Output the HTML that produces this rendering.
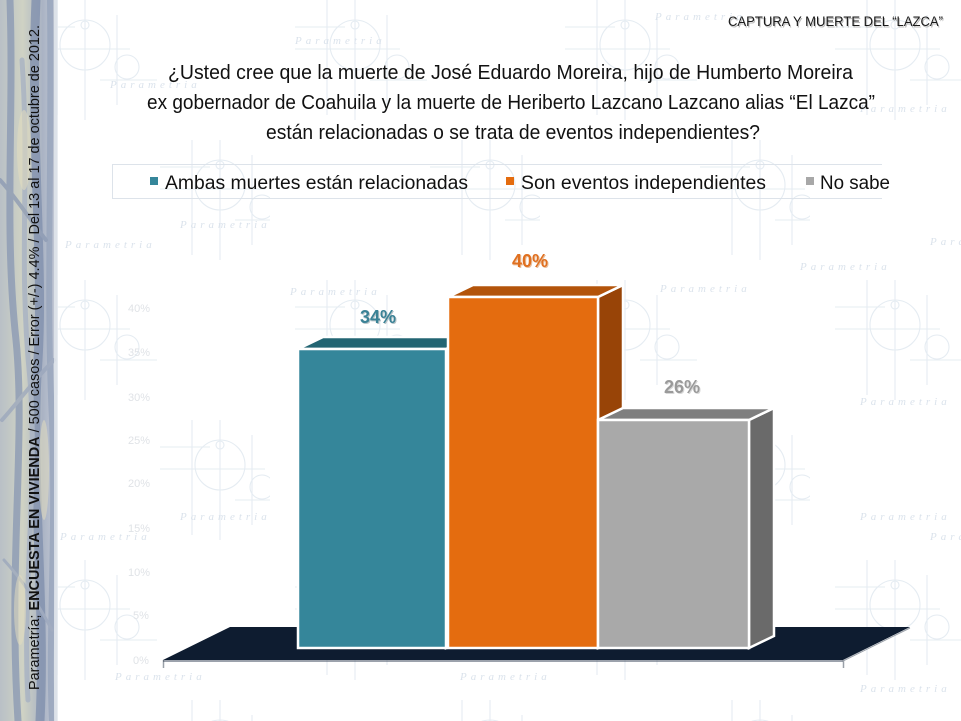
<!DOCTYPE html>
<html>
<head>
<meta charset="utf-8">
<style>
html,body{margin:0;padding:0;background:#fff;}
body{width:961px;height:721px;overflow:hidden;}
svg{display:block;}
</style>
</head>
<body>
<svg width="961" height="721" viewBox="0 0 961 721" xmlns="http://www.w3.org/2000/svg">
<defs>
  <pattern id="wm" x="0" y="0" width="270" height="280" patternUnits="userSpaceOnUse">
    <g fill="none" stroke="#dfe7ef" stroke-width="1.1">
      <g transform="translate(85,45)">
        <circle r="25"/><circle cy="-20" r="4"/>
        <line x1="-60" y1="4" x2="45" y2="4"/><line x1="-60" y1="-18" x2="-10" y2="-18"/>
        <line x1="-28" y1="-45" x2="-28" y2="70"/><line x1="0" y1="-45" x2="0" y2="75"/>
        <line x1="32" y1="-30" x2="32" y2="60"/>
        <circle cx="42" cy="22" r="12"/><line x1="15" y1="35" x2="72" y2="35"/>
      </g>
      <g transform="translate(220,185)">
        <circle r="25"/><circle cy="-20" r="4"/>
        <line x1="-60" y1="4" x2="45" y2="4"/><line x1="-60" y1="-18" x2="-10" y2="-18"/>
        <line x1="-28" y1="-45" x2="-28" y2="70"/><line x1="0" y1="-45" x2="0" y2="75"/>
        <line x1="32" y1="-30" x2="32" y2="60"/>
        <circle cx="42" cy="22" r="12"/><line x1="15" y1="35" x2="72" y2="35"/>
      </g>
    </g>
  </pattern>
  <linearGradient id="strip" x1="0" y1="0" x2="1" y2="0">
    <stop offset="0" stop-color="#b9c0c6"/>
    <stop offset="0.4" stop-color="#cfd2c4"/>
    <stop offset="0.75" stop-color="#aab3c4"/>
    <stop offset="1" stop-color="#c4cad6"/>
  </linearGradient>
</defs>

<rect x="0" y="0" width="961" height="721" fill="#ffffff"/>
<rect x="57" y="0" width="904" height="721" fill="url(#wm)" opacity="0.8"/>
<g font-family="Liberation Serif, serif" font-style="italic" font-size="11" fill="#dbe3ec" letter-spacing="4">
  <text x="110" y="88">Parametria</text>
  <text x="180" y="228">Parametria</text>
  <text x="65" y="248">Parametria</text>
  <text x="295" y="44">Parametria</text>
  <text x="180" y="520">Parametria</text>
  <text x="60" y="540">Parametria</text>
  <text x="290" y="295">Parametria</text>
  <text x="660" y="292">Parametria</text>
  <text x="800" y="270">Parametria</text>
  <text x="860" y="112">Parametria</text>
  <text x="655" y="20">Parametria</text>
  <text x="860" y="405">Parametria</text>
  <text x="860" y="520">Parametria</text>
  <text x="660" y="540">Parametria</text>
  <text x="860" y="692">Parametria</text>
  <text x="115" y="680">Parametria</text>
  <text x="460" y="680">Parametria</text>
  <text x="930" y="245">Para</text>
  <text x="930" y="540">Para</text>
</g>
<g font-family="Liberation Sans, sans-serif" font-size="11" fill="#e0e3e7" text-anchor="middle">
  <text x="139" y="312">40%</text>
  <text x="139" y="356">35%</text>
  <text x="139" y="401">30%</text>
  <text x="139" y="444">25%</text>
  <text x="139" y="487">20%</text>
  <text x="139" y="532">15%</text>
  <text x="139" y="576">10%</text>
  <text x="141" y="619">5%</text>
  <text x="141" y="664">0%</text>
</g>

<rect x="0" y="0" width="57" height="721" fill="url(#strip)"/>
<g fill="none" stroke-linecap="round" opacity="0.75">
  <path d="M10,0 C14,120 4,230 16,340 C26,440 8,560 18,721" stroke="#8897b3" stroke-width="7"/>
  <path d="M36,0 C30,140 44,260 38,360 C30,470 46,600 40,721" stroke="#7e8eac" stroke-width="9"/>
  <path d="M50,0 C52,160 46,300 52,420 C56,540 48,640 52,721" stroke="#95a3bb" stroke-width="6"/>
  <path d="M22,60 C30,180 18,260 30,380 C38,480 22,600 28,700" stroke="#a5b0c3" stroke-width="5"/>
  <path d="M0,180 C18,200 30,220 46,240" stroke="#8a98b2" stroke-width="4"/>
  <path d="M2,420 C20,400 34,380 54,360" stroke="#9aa6bc" stroke-width="4"/>
  <path d="M4,560 C22,580 36,600 52,630" stroke="#9aa6bc" stroke-width="3"/>
</g>
<g fill="#e2dcc0" opacity="0.55">
  <ellipse cx="24" cy="150" rx="7" ry="40"/>
  <ellipse cx="44" cy="470" rx="5" ry="50"/>
  <ellipse cx="20" cy="610" rx="6" ry="35"/>
</g>
<rect x="54" y="0" width="4" height="721" fill="#e4e8ee" opacity="0.8"/>

<text transform="translate(39,690) rotate(-90)" font-family="Liberation Sans, sans-serif" font-size="14.5" fill="#111" textLength="665" lengthAdjust="spacingAndGlyphs">Parametría; <tspan font-weight="bold">ENCUESTA EN VIVIENDA</tspan> / 500 casos / Error (+/-) 4.4% / Del 13 al 17 de octubre de 2012.</text>

<text x="728" y="26" font-family="Liberation Sans, sans-serif" font-size="13.5" fill="#bbbbbb" textLength="215" lengthAdjust="spacingAndGlyphs" transform="translate(1,1.5)">CAPTURA Y MUERTE DEL “LAZCA”</text>
<text x="728" y="26" font-family="Liberation Sans, sans-serif" font-size="13.5" fill="#1a1a1a" textLength="215" lengthAdjust="spacingAndGlyphs">CAPTURA Y MUERTE DEL “LAZCA”</text>

<g font-family="Liberation Sans, sans-serif" font-size="20.5" fill="#111">
  <text x="168" y="79" textLength="685" lengthAdjust="spacingAndGlyphs">¿Usted cree que la muerte de José Eduardo Moreira, hijo de Humberto Moreira</text>
  <text x="147" y="109" textLength="728" lengthAdjust="spacingAndGlyphs">ex gobernador de Coahuila y la muerte de Heriberto Lazcano Lazcano alias “El Lazca”</text>
  <text x="266" y="139" textLength="494" lengthAdjust="spacingAndGlyphs">están relacionadas o se trata de eventos independientes?</text>
</g>

<line x1="112" y1="164.5" x2="882" y2="164.5" stroke="#dde3ea" stroke-width="1"/>
<line x1="112" y1="198.5" x2="882" y2="198.5" stroke="#dde3ea" stroke-width="1"/>
<line x1="112.5" y1="164" x2="112.5" y2="199" stroke="#dde3ea" stroke-width="1"/>
<rect x="150" y="177" width="8" height="8" fill="#35869a"/>
<rect x="506" y="177" width="8" height="8" fill="#e46c0f"/>
<rect x="806" y="177" width="8" height="8" fill="#a8a8a8"/>
<g font-family="Liberation Sans, sans-serif" font-size="19" fill="#111">
  <text x="165" y="189" textLength="303" lengthAdjust="spacingAndGlyphs">Ambas muertes están relacionadas</text>
  <text x="521" y="189" textLength="245" lengthAdjust="spacingAndGlyphs">Son eventos independientes</text>
  <text x="820" y="189" textLength="70" lengthAdjust="spacingAndGlyphs">No sabe</text>
</g>

<polygon points="163,660 230,627 910,627 843,660" fill="#0e1c30"/>
<line x1="163.5" y1="660" x2="163.5" y2="668" stroke="#9aa0a8" stroke-width="1.5"/>
<line x1="843.5" y1="660" x2="843.5" y2="668" stroke="#9aa0a8" stroke-width="1.5"/>
<line x1="843" y1="661" x2="910" y2="628" stroke="#9aa0a8" stroke-width="1"/>
<line x1="163" y1="661" x2="843" y2="661" stroke="#3a4658" stroke-width="1"/>

<g stroke="#ffffff" stroke-width="2.5" stroke-linejoin="miter">
  <polygon points="446,349 471,337 471,636 446,648" fill="#1e5d6b"/>
  <polygon points="298,349 323,337 471,337 446,349" fill="#236573"/>
  <rect x="298" y="349" width="148" height="299" fill="#35869a"/>
  <polygon points="598,297 623,285 623,636 598,648" fill="#984407"/>
  <polygon points="448,297 473,285 623,285 598,297" fill="#b3540a"/>
  <rect x="448" y="297" width="150" height="351" fill="#e46c0f"/>
  <polygon points="749,420 774,408 774,636 749,648" fill="#6a6a6a"/>
  <polygon points="598,420 623,408 774,408 749,420" fill="#7f7f7f"/>
  <rect x="598" y="420" width="151" height="228" fill="#a9a9a9"/>
</g>

<g font-family="Liberation Sans, sans-serif" font-size="18" font-weight="bold" text-anchor="middle">
  <text x="379" y="324" fill="#b8c4c8">34%</text>
  <text x="378" y="323" fill="#3a8296">34%</text>
  <text x="531" y="268" fill="#e8c0a0">40%</text>
  <text x="530" y="267" fill="#e07020">40%</text>
  <text x="683" y="394" fill="#d8d8d8">26%</text>
  <text x="682" y="393" fill="#9a9a9a">26%</text>
</g>
</svg>
</body>
</html>
